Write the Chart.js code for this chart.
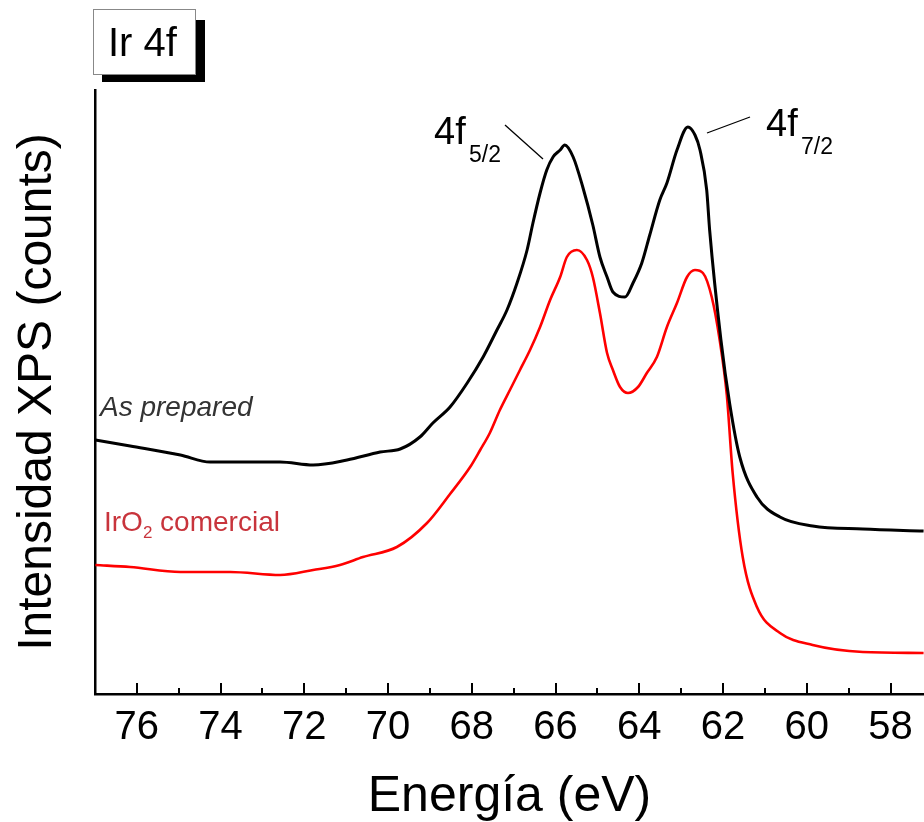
<!DOCTYPE html>
<html><head><meta charset="utf-8">
<script src="https://cdn.jsdelivr.net/npm/chart.js@4.4.1/dist/chart.umd.min.js"></script>
<style>html,body{margin:0;padding:0;background:#fff;overflow:hidden}canvas{display:block}</style>
</head><body>
<canvas id="c" width="924" height="822"></canvas>
<script>
const tickLabels = [76, 74, 72, 70, 68, 66, 64, 62, 60, 58];
const minorTicks = [75, 73, 71, 69, 67, 65, 63, 61, 59];

const energyAsPrepared = [76.99,76.16,74.96,74.25,73.37,72.58,71.79,70.98,70.19,69.71,69.24,68.93,68.52,68.11,67.73,67.40,67.16,66.92,66.68,66.54,66.37,66.21,66.06,65.89,65.78,65.58,65.35,65.11,64.94,64.77,64.63,64.34,64.15,63.94,63.75,63.51,63.34,63.10,62.84,62.67,62.55,62.39,62.32,62.05,61.84,61.60,61.19,60.64,59.86,58.66,57.21];
const countsAsPrepared = [254,248,239,232,232,232,229,234,242,245,257,271,287,311,337,364,384,411,444,471,501,524,537,544,549,537,507,469,437,417,402,397,411,431,459,494,511,544,567,559,544,504,464,354,290,237,197,177,168,165,163];

const energyIrO2 = [76.99,76.16,74.96,73.77,72.58,71.79,71.15,70.60,69.79,69.07,68.52,68.04,67.80,67.57,67.33,67.09,66.85,66.61,66.37,66.13,65.89,65.73,65.49,65.25,65.11,64.94,64.77,64.63,64.46,64.27,64.03,63.82,63.58,63.34,63.10,62.86,62.67,62.48,62.27,62.08,61.91,61.77,61.53,61.19,60.64,59.86,58.66,57.21];
const countsIrO2 = [129,127,122,122,119,124,129,137,147,171,200,227,244,261,284,304,324,344,367,394,417,437,444,434,417,381,341,324,307,301,307,321,337,367,391,417,424,421,397,354,299,221,137,87,61,49,42,41];

const seriesNames = ['As prepared', 'IrO2 comercial'];
const FONT = "'Liberation Sans', Arial, sans-serif";

const decor = {
  id: 'decor',
  afterDraw(chart) {
    const ctx = chart.ctx;
    const xs = chart.scales.x;
    const y0 = xs.top;
    ctx.save();
    ctx.strokeStyle = '#000';
    ctx.lineWidth = 2;
    tickLabels.forEach(v => {
      const px = Math.round(xs.getPixelForValue(v));
      ctx.beginPath(); ctx.moveTo(px, y0); ctx.lineTo(px, y0 - 11); ctx.stroke();
    });
    minorTicks.forEach(v => {
      const px = Math.round(xs.getPixelForValue(v));
      ctx.beginPath(); ctx.moveTo(px, y0); ctx.lineTo(px, y0 - 6); ctx.stroke();
    });

    // Ir 4f box
    ctx.fillStyle = '#000';
    ctx.fillRect(102, 74, 103, 8);
    ctx.fillRect(195, 20, 10, 62);
    ctx.fillStyle = '#fff';
    ctx.fillRect(93, 9, 102, 65);
    ctx.strokeStyle = '#888';
    ctx.lineWidth = 1;
    ctx.strokeRect(93.5, 9.5, 102, 65);
    ctx.fillStyle = '#000';
    ctx.font = '40px ' + FONT;
    ctx.textBaseline = 'alphabetic';
    ctx.textAlign = 'left';
    ctx.fillText('Ir 4f', 108, 56);

    // peak annotations
    ctx.font = '38px ' + FONT;
    ctx.fillText('4f', 434, 144);
    ctx.font = '23px ' + FONT;
    ctx.fillText('5/2', 469, 162);
    ctx.font = '38px ' + FONT;
    ctx.fillText('4f', 766, 136);
    ctx.font = '23px ' + FONT;
    ctx.fillText('7/2', 801, 154);
    ctx.strokeStyle = '#000';
    ctx.lineWidth = 1.3;
    ctx.beginPath(); ctx.moveTo(505, 125); ctx.lineTo(543, 159); ctx.stroke();
    ctx.beginPath(); ctx.moveTo(707, 133); ctx.lineTo(750, 117); ctx.stroke();

    // series labels
    ctx.fillStyle = '#333';
    ctx.font = 'italic 28px ' + FONT;
    ctx.fillText(seriesNames[0], 100, 416);
    ctx.fillStyle = '#c8343c';
    ctx.font = '28px ' + FONT;
    ctx.fillText('IrO', 104, 531);
    let w = ctx.measureText('IrO').width;
    ctx.font = '17px ' + FONT;
    ctx.fillText('2', 104 + w, 538);
    let w2 = ctx.measureText('2').width;
    ctx.font = '28px ' + FONT;
    ctx.fillText(' comercial', 104 + w + w2, 531);
    ctx.restore();
  }
};

new Chart(document.getElementById('c').getContext('2d'), {
  type: 'scatter',
  data: {
    datasets: [
      { label: seriesNames[0], data: energyAsPrepared.map((x, i) => ({ x, y: countsAsPrepared[i] })),
        showLine: true, borderColor: '#000', borderWidth: 3, pointRadius: 0, cubicInterpolationMode: 'monotone', fill: false },
      { label: seriesNames[1], data: energyIrO2.map((x, i) => ({ x, y: countsIrO2[i] })),
        showLine: true, borderColor: '#ff0000', borderWidth: 2.6, pointRadius: 0, cubicInterpolationMode: 'monotone', fill: false }
    ]
  },
  options: {
    responsive: false,
    animation: false,
    events: [],
    layout: { padding: { top: 90, right: 0, left: 0, bottom: 0 } },
    plugins: { legend: { display: false }, tooltip: { enabled: false } },
    scales: {
      x: {
        type: 'linear', reverse: true, min: 57.2, max: 77,
        afterBuildTicks: s => { s.ticks = tickLabels.map(v => ({ value: v })); },
        afterFit: s => { s.height = 128; },
        grid: { display: false, drawTicks: false },
        border: { display: true, color: '#000', width: 2.5 },
        ticks: { font: { family: FONT, size: 40 }, color: '#000', padding: 10, maxRotation: 0, autoSkip: false },
        title: { display: true, text: 'Energía (eV)', font: { family: FONT, size: 50, lineHeight: 0.8 }, color: '#000', padding: { top: 0, bottom: 5 } }
      },
      y: {
        min: 0, max: 604,
        afterFit: s => { s.width = 95; },
        ticks: { display: false },
        grid: { display: false, drawTicks: false },
        border: { display: true, color: '#000', width: 2.5 },
        title: { display: true, text: 'Intensidad XPS (counts)', font: { family: FONT, size: 48 }, color: '#000', padding: { top: 9, bottom: 0 } }
      }
    }
  },
  plugins: [decor]
});
</script>
</body></html>
